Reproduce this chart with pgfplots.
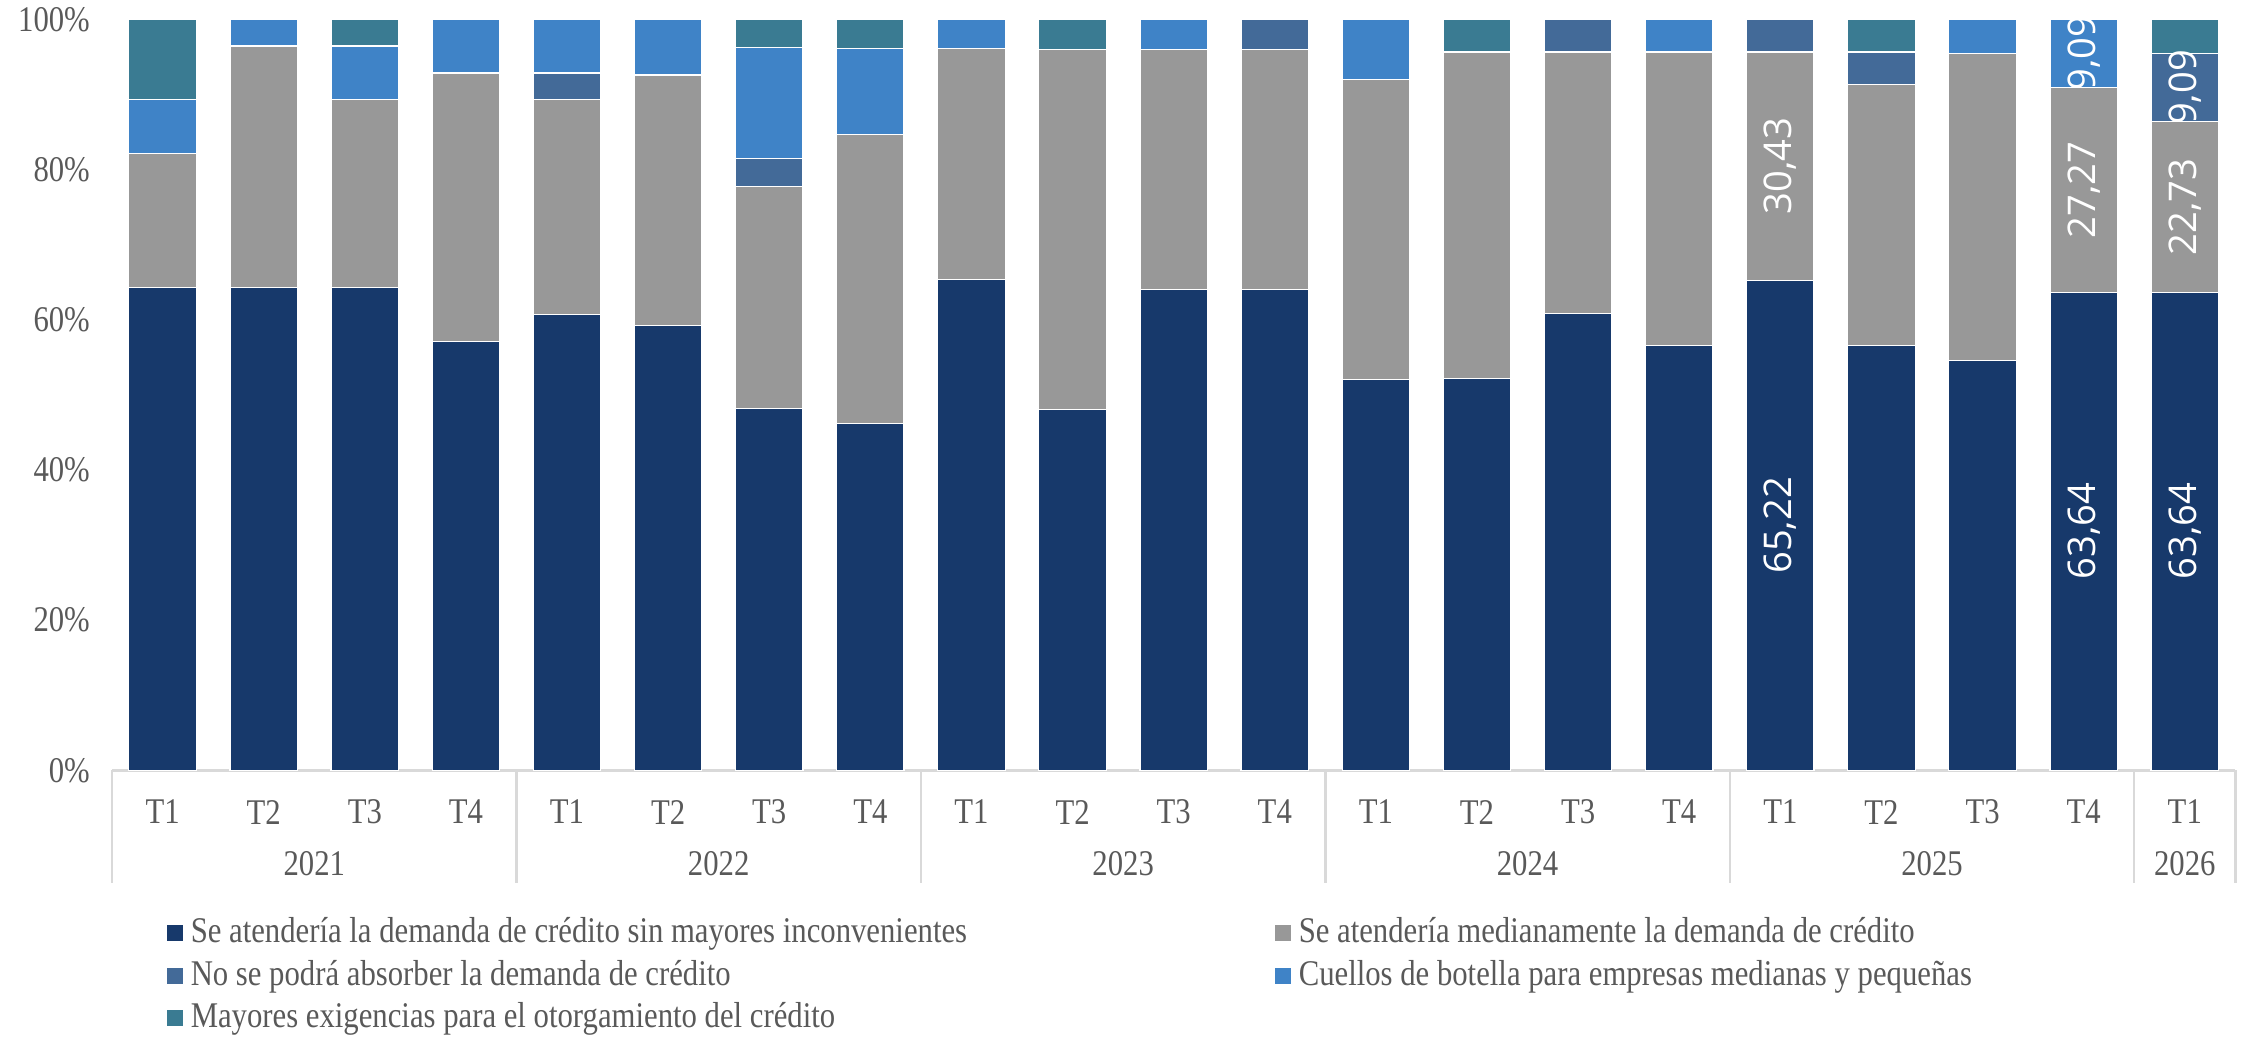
\documentclass[border=0pt]{standalone}
\usepackage{fontspec}
\setmainfont{Liberation Serif}[FakeStretch=0.85]
\newfontfamily\labelfont{Open Sans}
\usepackage{pgfplots}
\usepackage{pgfplotstable}
\pgfplotsset{compat=1.18}

\definecolor{cNavy}{HTML}{17396B}
\definecolor{cGray}{HTML}{989898}
\definecolor{cSteel}{HTML}{436A98}
\definecolor{cBlue}{HTML}{3F83C7}
\definecolor{cTeal}{HTML}{3A7B92}
\definecolor{textgray}{HTML}{595959}
\definecolor{linegray}{HTML}{D9D9D9}

% shares (%) by quarter; la..ld = printed labels
\pgfplotstableread{
x  a     b     c    d     e     la    lb    lc   ld
0  64.29 17.86 0    7.14  10.71 {}    {}    {}   {}
1  64.29 32.14 0    3.57  0     {}    {}    {}   {}
2  64.29 25.00 0    7.14  3.57  {}    {}    {}   {}
3  57.14 35.71 0    7.14  0     {}    {}    {}   {}
4  60.71 28.57 3.57 7.14  0     {}    {}    {}   {}
5  59.26 33.33 0    7.41  0     {}    {}    {}   {}
6  48.15 29.63 3.70 14.81 3.70  {}    {}    {}   {}
7  46.15 38.46 0    11.54 3.85  {}    {}    {}   {}
8  65.38 30.77 0    3.85  0     {}    {}    {}   {}
9  48.00 48.00 0    0     4.00  {}    {}    {}   {}
10 64.00 32.00 0    4.00  0     {}    {}    {}   {}
11 64.00 32.00 4.00 0     0     {}    {}    {}   {}
12 52.00 40.00 0    8.00  0     {}    {}    {}   {}
13 52.17 43.48 0    0     4.35  {}    {}    {}   {}
14 60.87 34.78 4.35 0     0     {}    {}    {}   {}
15 56.52 39.13 0    4.35  0     {}    {}    {}   {}
16 65.22 30.43 4.35 0     0     65,22 30,43 {}   {}
17 56.52 34.78 4.35 0     4.35  {}    {}    {}   {}
18 54.55 40.91 0    4.55  0     {}    {}    {}   {}
19 63.64 27.27 0    9.09  0     63,64 27,27 {}   9,09
20 63.64 22.73 9.09 0     4.55  63,64 22,73 9,09 {}
}\encuesta

\pgfplotsset{
  serie/.style={fill=#1, draw=white, line width=0.3pt,
    legend image code/.code={\fill[##1, draw=none] (0pt,-2pt) rectangle (4pt,2pt);}},
  seglabel/.style={
    nodes near coords,
    point meta=explicit symbolic,
    every node near coord/.append style={
      rotate=90, anchor=center, text=white, inner sep=0pt,
      font=\labelfont\fontsize{9.5}{11}\selectfont}},
}
\tikzset{yearlabel/.style={font=\fontsize{9}{10}\selectfont, text=textgray, anchor=center, yshift=-23.2pt}}

\begin{document}
\begin{tikzpicture}
\begin{axis}[
  scale only axis, width=528.7pt, height=187pt,
  ybar stacked, bar width=0.667,
  xmin=-0.5, xmax=20.5, ymin=0, ymax=100,
  xtick={0,...,20},
  xticklabels={T1,T2,T3,T4,T1,T2,T3,T4,T1,T2,T3,T4,T1,T2,T3,T4,T1,T2,T3,T4,T1},
  ytick={0,20,...,100},
  yticklabel={\pgfmathprintnumber{\tick}\%},
  /pgf/number format/assume math mode=true,
  axis x line*=bottom, axis y line*=left,
  x axis line style={-, draw=linegray, line width=0.8pt},
  y axis line style={draw=none},
  tick style={draw=none},
  tick label style={font=\fontsize{9}{10}\selectfont, text=textgray},
  xticklabel style={anchor=center, yshift=-10.4pt},
  yticklabel style={xshift=-2pt},
  clip=false,
  legend columns=2,
  legend cell align=left,
  legend style={at={(0,0)}, anchor=north west, xshift=10.4pt, yshift=-32.4pt,
    draw=none, fill=none, font=\fontsize{9}{10}\selectfont, text=textgray,
    /tikz/column 2/.style={column sep=74.6pt}, row sep=-1.1pt},
]
\addplot[serie=cNavy, seglabel] table[x=x, y=a, meta=la] {\encuesta};
\addlegendentry{Se atendería la demanda de crédito sin mayores inconvenientes}
\addplot[serie=cGray, seglabel] table[x=x, y=b, meta=lb] {\encuesta};
\addlegendentry{Se atendería medianamente la demanda de crédito}
\addplot[serie=cSteel, seglabel] table[x=x, y=c, meta=lc] {\encuesta};
\addlegendentry{No se podrá absorber la demanda de crédito}
\addplot[serie=cBlue, seglabel] table[x=x, y=d, meta=ld] {\encuesta};
\addlegendentry{Cuellos de botella para empresas medianas y pequeñas}
\addplot[serie=cTeal] table[x=x, y=e] {\encuesta};
\addlegendentry{Mayores exigencias para el otorgamiento del crédito}

% group separators and year labels
\pgfplotsinvokeforeach{-0.5,3.5,7.5,11.5,15.5,19.5,20.5}{
  \draw[linegray, line width=0.6pt] (axis cs:#1,0) -- ++(0pt,-28pt);
}
\node[yearlabel] at (axis cs:1.5,0) {2021};
\node[yearlabel] at (axis cs:5.5,0) {2022};
\node[yearlabel] at (axis cs:9.5,0) {2023};
\node[yearlabel] at (axis cs:13.5,0) {2024};
\node[yearlabel] at (axis cs:17.5,0) {2025};
\node[yearlabel] at (axis cs:20,0) {2026};
\end{axis}
\pgfresetboundingbox
\path[use as bounding box] (-27.9pt,-66.6pt) rectangle (532.1pt,191.8pt);
\end{tikzpicture}
\end{document}
